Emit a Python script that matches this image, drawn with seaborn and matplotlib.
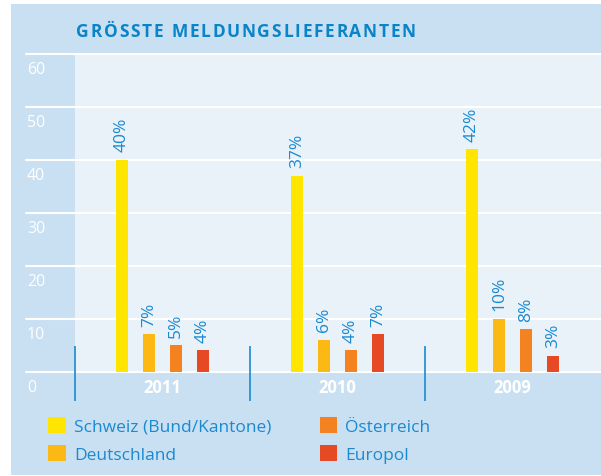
import matplotlib
matplotlib.use('Agg')
import matplotlib.pyplot as plt
import seaborn as sns
import pandas as pd
from matplotlib.patches import Rectangle, Patch
from matplotlib.transforms import IdentityTransform

# Daten
years = ['2011', '2010', '2009']
sources = ['Schweiz (Bund/Kantone)', 'Deutschland', 'Österreich', 'Europol']
schweiz = [40, 37, 42]
deutschland = [7, 6, 10]
oesterreich = [5, 4, 8]
europol = [4, 7, 3]
y_ticks = [0, 10, 20, 30, 40, 50, 60]
title = 'GRÖSSTE MELDUNGSLIEFERANTEN'

colors = ['#ffe500', '#fdb913', '#f58220', '#e64a24']
PANEL = '#c9dff2'
PLOT = '#e9f1f9'
BLUE = '#1a8ad0'
TITLE_BLUE = '#0a84c8'

df = pd.DataFrame({
    'Jahr': years * 4,
    'Quelle': [s for s in sources for _ in years],
    'Anteil': schweiz + deutschland + oesterreich + europol,
})

sns.set_style('white')
plt.rcParams['font.family'] = ['Open Sans', 'DejaVu Sans']

W, H = 601, 477
fig = plt.figure(figsize=(W / 100, H / 100), dpi=100, facecolor='white')

# hellblaues Panel
fig.add_artist(Rectangle((11 / W, 1 / H), 590 / W, 471 / H, transform=fig.transFigure,
                         facecolor=PANEL, edgecolor='none', zorder=-1))

ax = fig.add_axes([75 / W, (H - 372.5) / H, 526 / W, 317.5 / H])
ax.set_facecolor(PLOT)

sns.barplot(data=df, x='Jahr', y='Anteil', hue='Quelle', order=years, hue_order=sources,
            palette=colors, width=0.617, gap=0.52, saturation=1, linewidth=0,
            legend=False, ax=ax, zorder=2)

ax.set_xlim(-0.5, 2.5 + 1 / 175)
ax.set_ylim(0, 60)
ax.set_xticks([])
ax.set_yticks([])
ax.set_xlabel('')
ax.set_ylabel('')
for s in ax.spines.values():
    s.set_visible(False)

# Gitterlinien + Achsenbeschriftung
for t in y_ticks:
    ax.axhline(t, xmin=-0.0933, xmax=1, color='white', lw=1.5, clip_on=False, zorder=1)
    ax.text(-0.0914, t - 2.85, str(t), transform=ax.get_yaxis_transform(),
            ha='left', va='center', color='white', fontsize=11.5, clip_on=False)

# Trennlinien und Jahre
ax.vlines([-0.5, 0.5, 1.5], -5.6, 4.8, color=BLUE, lw=1.2, clip_on=False, zorder=3)
for i, y in enumerate(years):
    ax.text(i, -2.9, y, ha='center', va='center', color='white', fontsize=12,
            fontweight='bold', clip_on=False)

for cont in ax.containers:
    ax.bar_label(cont, fmt='{:.0f}%', rotation=90, padding=6, color=BLUE, fontsize=12.5)

# Legende
handles = [Patch(facecolor=c, edgecolor='none') for c in colors]
fig.legend(handles, sources, ncol=2, loc='upper left', bbox_to_anchor=(48 / W, (H - 418) / H),
           frameon=False, fontsize=12.5, handlelength=1.03, handleheight=1.03,
           handletextpad=0.46, columnspacing=2.78, labelspacing=0.58, labelcolor=BLUE,
           borderpad=0, borderaxespad=0)

# Titel mit Sperrung
renderer = fig.canvas.get_renderer()
chars, widths = [], []
for ch in title:
    t = fig.text(0, H - 36.7, ch, transform=IdentityTransform(), ha='left', va='baseline',
                 fontsize=12.5, fontweight='bold', color=TITLE_BLUE)
    chars.append(t)
    widths.append(t.get_window_extent(renderer).width)
track = (340 - sum(widths)) / (len(title) - 1)
x = 76
for t, w in zip(chars, widths):
    t.set_x(x)
    x += w + track

fig.savefig('out.png', dpi=100)
